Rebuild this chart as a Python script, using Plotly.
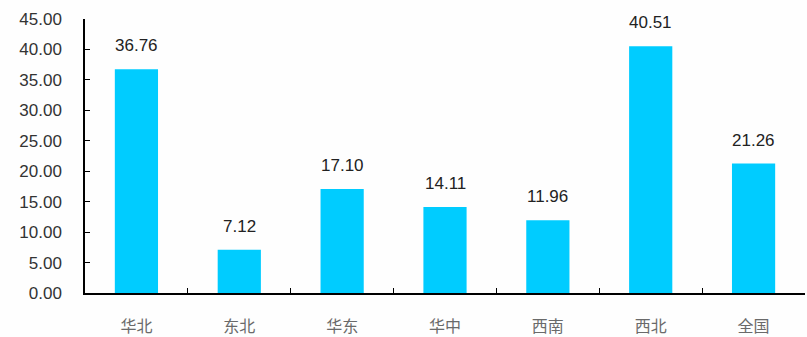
import plotly.graph_objects as go

categories = ["华北", "东北", "华东", "华中", "西南", "西北", "全国"]
values = [36.76, 7.12, 17.10, 14.11, 11.96, 40.51, 21.26]
value_labels = ["36.76", "7.12", "17.10", "14.11", "11.96", "40.51", "21.26"]
y_ticks = [0, 5, 10, 15, 20, 25, 30, 35, 40, 45]
y_tick_labels = ["0.00", "5.00", "10.00", "15.00", "20.00", "25.00", "30.00", "35.00", "40.00", "45.00"]

fig = go.Figure(go.Bar(
    x=categories, y=values,
    marker=dict(color="#00CCFF", line=dict(width=0)),
))

for c, v, t in zip(categories, values, value_labels):
    fig.add_annotation(
        x=c, y=v, text=t, showarrow=False, yanchor="bottom", yshift=12,
        font=dict(family="Liberation Sans, Arial, sans-serif", size=17, color="#222222"),
    )

fig.update_layout(
    width=807, height=337,
    margin=dict(l=85, r=2, t=19, b=44),
    paper_bgcolor="#FEFEFE", plot_bgcolor="#FEFEFE",
    bargap=0.58,
    showlegend=False,
    font=dict(family="Liberation Sans, Arial, sans-serif", color="#333333"),
)
fig.update_yaxes(
    range=[0, 45], tickvals=y_ticks, ticktext=y_tick_labels,
    showgrid=False, zeroline=False, automargin=False,
    showline=True, linecolor="#000000", linewidth=1.5,
    ticks="inside", ticklen=5, tickcolor="#000000",
    tickfont=dict(size=17, color="#333333"),
    ticklabelstandoff=18,
)
fig.update_xaxes(
    showgrid=False, showline=True, linecolor="#000000", linewidth=1.5,
    automargin=False,
    ticks="inside", tickson="boundaries", ticklen=5, tickcolor="#000000",
    tickfont=dict(family="Noto Sans CJK SC, sans-serif", size=16, color="#6A6A6A"),
    ticklabelstandoff=18,
)

fig.write_html(
    "out.html",
    config={"displayModeBar": False},
    post_script="document.body.style.margin='0';document.body.style.background='#FEFEFE';",
)
